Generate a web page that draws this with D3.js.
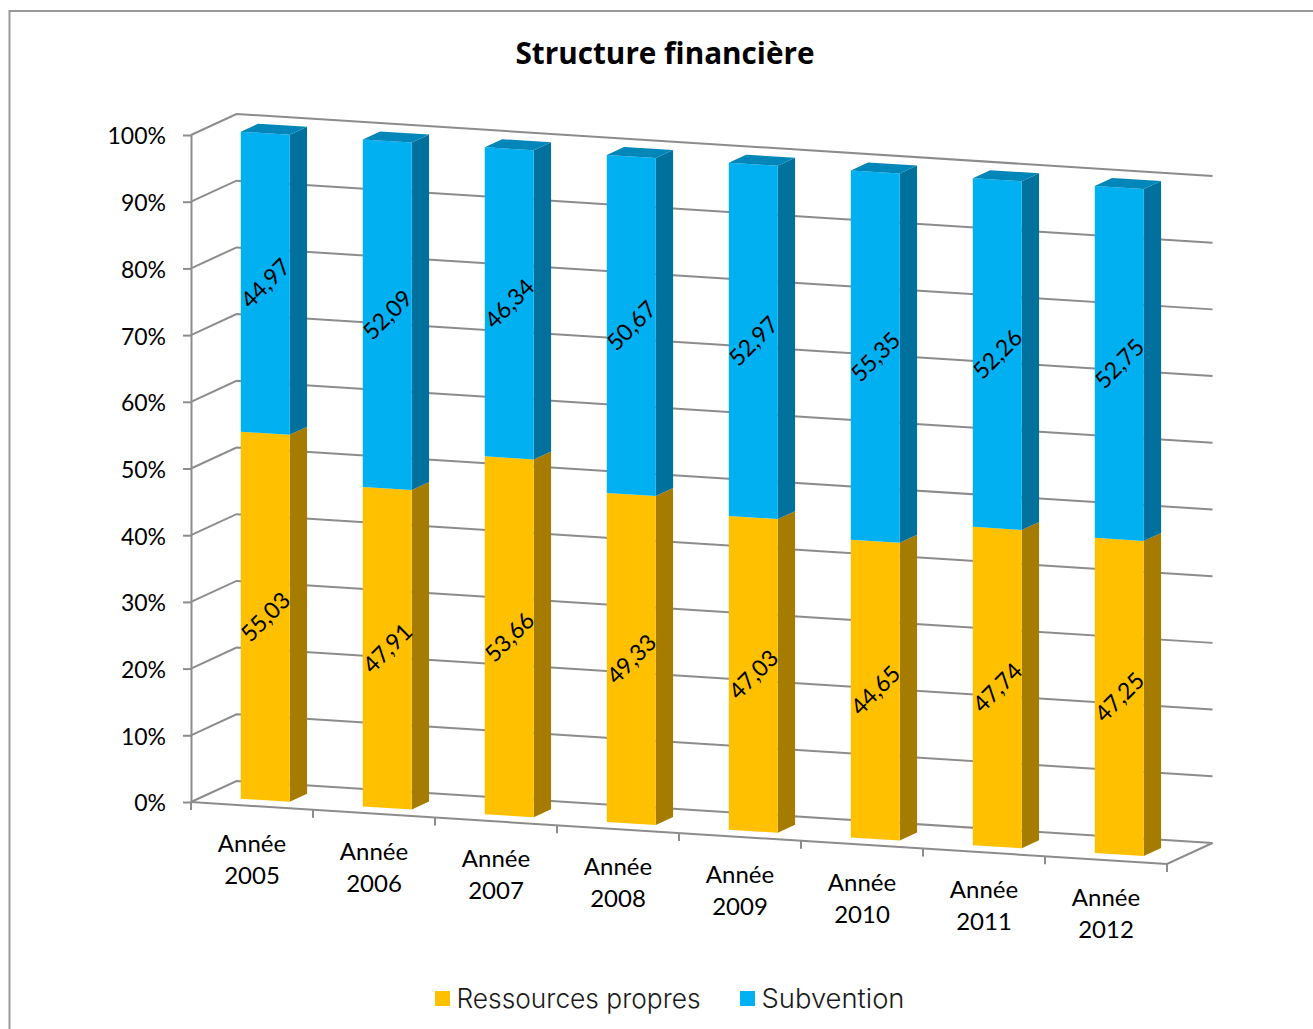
<!DOCTYPE html>
<html>
<head>
<meta charset="utf-8">
<script src="https://cdn.jsdelivr.net/npm/d3@7/dist/d3.min.js"></script>
<style>
html, body { margin: 0; padding: 0; background: #fff; }
svg { display: block; }
</style>
</head>
<body>
<div id="chart"></div>
<script>
var years = ["2005", "2006", "2007", "2008", "2009", "2010", "2011", "2012"];
var ressources = [55.03, 47.91, 53.66, 49.33, 47.03, 44.65, 47.74, 47.25];
var subvention = [44.97, 52.09, 46.34, 50.67, 52.97, 55.35, 52.26, 52.75];
var yTicks = [0, 10, 20, 30, 40, 50, 60, 70, 80, 90, 100];
var seriesNames = ["Ressources propres", "Subvention"];

var width = 1313, height = 1029;
var originX = 191, floorSlope = 0.0635;
var depthX = 45.5, depthY = -21;
var grey = "#8c8c8c";
var bodyFont = "Lato, sans-serif";

var colors = [
	{ front: "#FFC000", side: "#A67C00", top: "#BF9000" },
	{ front: "#00B0F0", side: "#00719C", top: "#0086B8" }
];

var groupScale = d3.scaleBand().domain(years).range([0, 976]);
var yScale = d3.scaleLinear().domain([0, 100]).range([802, 135]);

// map (distance along floor, value, depth 0-1) to the page
function project(u, v, z) {
	return [originX + u + depthX * z,
		yScale(v) + u * floorSlope + depthY * z];
}
var path = d3.line();
function poly(points) { return path(points) + "Z"; }

var svg = d3.select("#chart").append("svg")
	.attr("width", width)
	.attr("height", height);

// outer chart frame, cut by the page on the right and bottom
svg.append("path")
	.attr("d", "M9.5," + height + "V11H" + width)
	.attr("fill", "none")
	.attr("stroke", "#999")
	.attr("stroke-width", 2);

svg.append("text")
	.text("Structure financière")
	.attr("x", 665)
	.attr("y", 63.5)
	.attr("text-anchor", "middle")
	.attr("font-family", "'Open Sans', sans-serif")
	.attr("font-weight", 700)
	.attr("font-size", 29.7)
	.attr("fill", "#000");

// walls
var grid = svg.append("g").attr("fill", "none").attr("stroke", grey).attr("stroke-width", 2);
grid.selectAll("path")
	.data(yTicks)
	.enter()
	.append("path")
	.attr("d", function(d) { return path([project(0, d, 0), project(0, d, 1), project(976, d, 1)]); });

// floor front and right edges
grid.append("path")
	.attr("d", path([project(0, 0, 0), project(976, 0, 0), project(976, 0, 1)]));

// y axis
var yAxis = d3.axisLeft(yScale)
	.tickValues(yTicks)
	.tickSizeInner(8)
	.tickSizeOuter(0)
	.tickPadding(17)
	.tickFormat(function(d) { return d + "%"; });

var yG = svg.append("g")
	.attr("transform", "translate(" + originX + ",0)")
	.call(yAxis);
yG.selectAll("line, path").attr("stroke", grey).attr("stroke-width", 2);
yG.selectAll("text")
	.attr("dy", "0.39em")
	.attr("font-family", bodyFont)
	.attr("font-size", 23)
	.attr("fill", "#000");
yG.append("line")
	.attr("y1", 802).attr("y2", 810)
	.attr("stroke", grey).attr("stroke-width", 2);

// category ticks and labels
var catTicks = svg.append("g").attr("stroke", grey).attr("stroke-width", 2);
years.forEach(function(y, i) {
	var u = groupScale(y) + groupScale.bandwidth();
	var p = project(u, 0, 0);
	catTicks.append("line")
		.attr("x1", p[0]).attr("x2", p[0])
		.attr("y1", p[1]).attr("y2", p[1] + 8);

	var mid = project(groupScale(y) + groupScale.bandwidth() / 2, 0, 0);
	var label = svg.append("text")
		.attr("text-anchor", "middle")
		.attr("font-family", bodyFont)
		.attr("font-size", 24)
		.attr("fill", "#000");
	label.append("tspan").attr("x", mid[0]).attr("y", mid[1] + 46).text("Année");
	label.append("tspan").attr("x", mid[0]).attr("y", mid[1] + 78).text(y);
});

// stacked 3d bars
var stackData = years.map(function(y, i) {
	return { year: y, r: ressources[i], s: subvention[i] };
});
var stacked = d3.stack().keys(["r", "s"])(stackData);

var barWidth = 49;
var barShift = 1;
var barZ0 = 0.27, barZ1 = 0.65;

var bars = svg.selectAll("g.bar")
	.data(years)
	.enter()
	.append("g")
	.attr("class", "bar");

bars.each(function(y, i) {
	var g = d3.select(this);
	var u0 = groupScale(y) + (groupScale.bandwidth() - barWidth) / 2 + barShift;
	var u1 = u0 + barWidth;

	stacked.forEach(function(layer, k) {
		var v0 = layer[i][0], v1 = layer[i][1];
		g.append("path")
			.attr("fill", colors[k].side)
			.attr("d", poly([project(u1, v0, barZ0), project(u1, v0, barZ1), project(u1, v1, barZ1), project(u1, v1, barZ0)]));
		g.append("path")
			.attr("fill", colors[k].front)
			.attr("d", poly([project(u0, v0, barZ0), project(u1, v0, barZ0), project(u1, v1, barZ0), project(u0, v1, barZ0)]));
		if (k == stacked.length - 1) {
			g.append("path")
				.attr("fill", colors[k].top)
				.attr("d", poly([project(u0, v1, barZ0), project(u1, v1, barZ0), project(u1, v1, barZ1), project(u0, v1, barZ1)]));
		}
	});

	stacked.forEach(function(layer, k) {
		var v0 = layer[i][0], v1 = layer[i][1];
		var c = project((u0 + u1) / 2, (v0 + v1) / 2, barZ0);
		var val = k == 0 ? ressources[i] : subvention[i];
		g.append("text")
			.text(val.toFixed(2).replace(".", ","))
			.attr("transform", "translate(" + c[0] + "," + c[1] + ") rotate(-45)")
			.attr("text-anchor", "middle")
			.attr("dy", "0.36em")
			.attr("font-family", bodyFont)
			.attr("font-size", 23)
			.attr("fill", "#000");
	});
});

// legend
var legendX = [435, 740];
var legend = svg.selectAll("g.legend")
	.data(seriesNames)
	.enter()
	.append("g")
	.attr("class", "legend")
	.attr("transform", function(d, i) { return "translate(" + legendX[i] + ",991)"; });
legend.append("rect")
	.attr("width", 15)
	.attr("height", 15)
	.attr("fill", function(d, i) { return colors[i].front; });
legend.append("text")
	.text(function(d) { return d; })
	.attr("x", 21.5)
	.attr("y", 17)
	.attr("font-family", "Inter, sans-serif")
	.attr("font-weight", 300)
	.attr("font-size", 27)
	.attr("textLength", function(d, i) { return i == 0 ? 244 : 143; })
	.attr("lengthAdjust", "spacingAndGlyphs")
	.attr("fill", "#1a1a1a");
</script>
</body>
</html>
